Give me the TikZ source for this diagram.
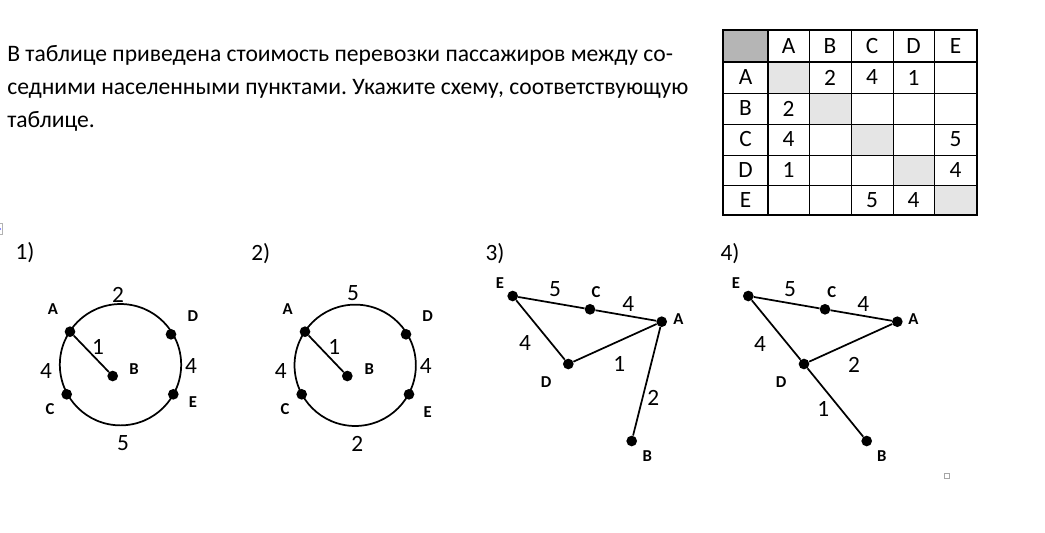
\documentclass[tikz,border=0pt]{standalone}
\usepackage{fontspec}
\setmainfont{Carlito}
\frenchspacing
\begin{document}
\begin{tikzpicture}[x=0.75pt,y=-0.75pt,
  dot/.style={circle,fill=black,inner sep=0pt,minimum size=8pt},
  edge/.style={line width=1.3pt,black},
  num/.style={font=\fontsize{17.5}{19}\selectfont,inner sep=0pt},
  lbl/.style={font=\fontsize{12.5}{14}\selectfont\bfseries,inner sep=0pt},
  cell/.style={font=\fontsize{17.5}{19}\selectfont,inner sep=0pt},
  thick line/.style={line width=2.2pt},
  thin line/.style={line width=0.75pt}]
\useasboundingbox (0,0) rectangle (1045,532);

% question text
\node[anchor=base west,align=left,inner sep=0pt,font=\fontsize{17.7}{24.75}\selectfont] (q) at (7,127)
  {В таблице приведена стоимость перевозки пассажиров между со-\\
   седними населенными пунктами. Укажите схему, соответствующую\\
   таблице.};

% table
\fill[gray!58] (723,30) rectangle (768,62);
\fill[gray!20] (768,62) rectangle (809,93);
\fill[gray!20] (809,93) rectangle (851,124);
\fill[gray!20] (851,124) rectangle (893,155);
\fill[gray!20] (893,155) rectangle (934,185);
\fill[gray!20] (934,185) rectangle (977,215);
\foreach \x in {809,851,893,934} \draw[thin line] (\x,30) -- (\x,215);
\foreach \y in {93,124,155,185} \draw[thin line] (723,\y) -- (977,\y);
\draw[thick line] (768,30) -- (768,215);
\draw[thick line] (723,62) -- (977,62);
\draw[thick line] (723,30) rectangle (977,215);

\node[cell] (hA) at (788.5,46.5) {A};
\node[cell] (hB) at (830,46.5) {B};
\node[cell] (hC) at (872,46.5) {C};
\node[cell] (hD) at (913.5,46.5) {D};
\node[cell] (hE) at (955.5,46.5) {E};
\node[cell] (rA) at (745.5,77.5) {A};
\node[cell] (rB) at (745.5,108.5) {B};
\node[cell] (rC) at (745.5,139.5) {C};
\node[cell] (rD) at (745.5,170) {D};
\node[cell] (rE) at (745.5,200) {E};
\node[cell] (tAB) at (830,77.5) {2};
\node[cell] (tAC) at (872,77.5) {4};
\node[cell] (tAD) at (913.5,77.5) {1};
\node[cell] (tBA) at (788.5,108.5) {2};
\node[cell] (tCA) at (788.5,139.5) {4};
\node[cell] (tCE) at (955.5,139.5) {5};
\node[cell] (tDA) at (788.5,170) {1};
\node[cell] (tDE) at (955.5,170) {4};
\node[cell] (tEC) at (872,200) {5};
\node[cell] (tED) at (913.5,200) {4};

% small marks
\draw[gray!60,line width=0.6pt] (0,223) -- (2.5,223) -- (2.5,234) -- (0,234);
\fill[blue!60] (0,229) circle[radius=0.8pt];
\draw[gray!70,line width=0.6pt] (944,473.5) rectangle (949,478.5);

% ---------- diagram 1 ----------
\node[num] (n1) at (25,253) {1)};
\coordinate (c1) at (120.5,364.7);
\draw[edge] (c1) circle[radius=45.5pt];
\node[dot] (A1) at (70,331.7) {};
\node[dot] (D1) at (171,334.3) {};
\node[dot] (E1) at (173.3,394.3) {};
\node[dot] (C1) at (66.7,394.3) {};
\node[dot] (B1) at (112.7,376) {};
\draw[edge] (A1) -- (B1);
\node[lbl] at (53,309) {A};
\node[lbl] at (193,316) {D};
\node[lbl] at (134,369) {B};
\node[lbl] at (50,409) {C};
\node[lbl] at (193,402) {E};
\node[num] at (118,295) {2};
\node[num] at (98,347) {1};
\node[num] at (46,371) {4};
\node[num] at (191,366) {4};
\node[num] at (123,443) {5};

% ---------- diagram 2 ----------
\node[num] (n2) at (260.7,253.3) {2)};
\coordinate (c2) at (355.2,365.3);
\draw[edge] (c2) circle[radius=45.5pt];
\node[dot] (A2) at (305,331.7) {};
\node[dot] (D2) at (406,334.3) {};
\node[dot] (E2) at (409,394.3) {};
\node[dot] (C2) at (301.7,394.3) {};
\node[dot] (B2) at (347.3,376) {};
\draw[edge] (A2) -- (B2);
\node[lbl] at (287.7,309) {A};
\node[lbl] at (427.7,316) {D};
\node[lbl] at (369.3,369.3) {B};
\node[lbl] at (285,409) {C};
\node[lbl] at (427.7,411.7) {E};
\node[num] at (353,293) {5};
\node[num] at (334.3,347.3) {1};
\node[num] at (280.7,371) {4};
\node[num] at (425.7,366) {4};
\node[num] at (357.3,444) {2};

% ---------- diagram 3 ----------
\node[num] (n3) at (495,253.3) {3)};
\node[dot] (E3) at (512.7,296) {};
\node[dot] (C3) at (590,309.3) {};
\node[dot] (A3) at (661.7,321.7) {};
\node[dot] (D3) at (568.3,364) {};
\node[dot] (B3) at (631.7,441) {};
\draw[edge] (E3) -- (C3) -- (A3) -- (D3) -- (E3);
\draw[edge] (A3) -- (B3);
\node[lbl] at (500,282.7) {E};
\node[lbl] at (596,291.7) {C};
\node[lbl] at (678.3,319.3) {A};
\node[lbl] at (546,381.7) {D};
\node[lbl] at (647.3,456) {B};
\node[num] at (555,289.3) {5};
\node[num] at (628.3,304.3) {4};
\node[num] at (525,343.3) {4};
\node[num] at (619.3,364) {1};
\node[num] at (653.3,398.3) {2};

% ---------- diagram 4 ----------
\node[num] (n4) at (730,253.3) {4)};
\node[dot] (E4) at (748.3,296) {};
\node[dot] (C4) at (825,309.3) {};
\node[dot] (A4) at (897.3,321.7) {};
\node[dot] (D4) at (804,364) {};
\node[dot] (B4) at (866.7,441) {};
\draw[edge] (E4) -- (C4) -- (A4) -- (D4) -- (E4);
\draw[edge] (D4) -- (B4);
\node[lbl] at (736,282.7) {E};
\node[lbl] at (831.7,291.7) {C};
\node[lbl] at (913.3,319.3) {A};
\node[lbl] at (781,381.7) {D};
\node[lbl] at (881.7,456) {B};
\node[num] at (790,289.3) {5};
\node[num] at (863.3,304.3) {4};
\node[num] at (760,344.3) {4};
\node[num] at (854,365) {2};
\node[num] at (823.3,409.3) {1};
\end{tikzpicture}
\end{document}
